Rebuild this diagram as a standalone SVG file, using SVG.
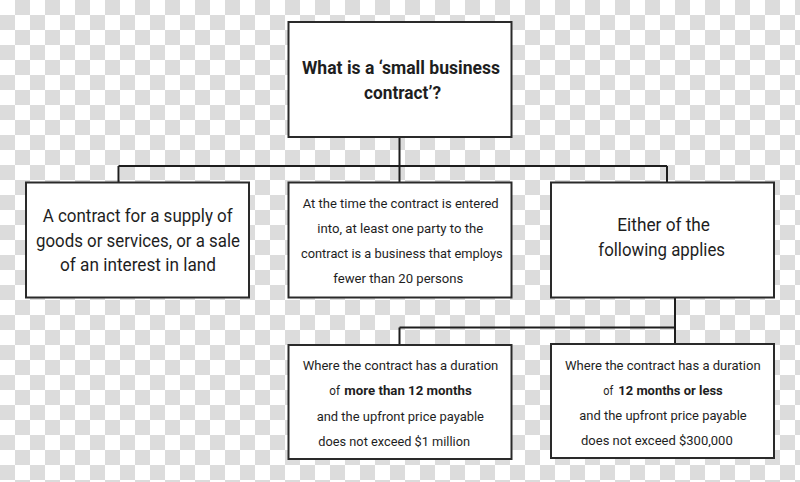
<svg xmlns="http://www.w3.org/2000/svg" width="800" height="482" viewBox="0 0 800 482">
<defs>
<pattern id="chk" x="0" y="0" width="30" height="30" patternUnits="userSpaceOnUse">
<rect x="0" y="0" width="30" height="30" fill="#ffffff"/>
<rect x="15" y="0" width="15" height="15" fill="#dcdcdc"/>
<rect x="0" y="15" width="15" height="15" fill="#dcdcdc"/>
</pattern>
</defs>
<style>
.box{fill:#ffffff;stroke:#2a2a2a;stroke-width:2}
.ln{fill:none;stroke:#1e1e1e;stroke-width:2}
text{font-family:"Liberation Sans Narrow","Roboto","Liberation Sans",sans-serif;fill:#1e1e1e}
.t{font-size:18px;font-weight:bold}
.m{font-size:17.5px}
.s{font-size:13.5px}
.b{font-weight:bold}
</style>
<rect x="0" y="0" width="800" height="482" fill="url(#chk)"/>
<g id="connectors">
<path class="ln" d="M399.5,137 V166 M118.5,166 H667 M118.5,166 V182 M399.5,166 V182 M667,166 V182"/>
<path class="ln" d="M675,297 V344 M399.5,327.5 H675 M399.5,327.5 V345"/>
</g>
<g id="n-title">
<rect class="box" x="288.5" y="22" width="223" height="115"/>
<text class="t" x="302" y="74" textLength="198" lengthAdjust="spacingAndGlyphs">What is a ‘small business</text>
<text class="t" x="364" y="99" textLength="77" lengthAdjust="spacingAndGlyphs">contract’?</text>
</g>
<g id="n-supply">
<rect class="box" x="26" y="182.5" width="223" height="115"/>
<text class="m" x="42.7" y="222" textLength="190" lengthAdjust="spacingAndGlyphs">A contract for a supply of</text>
<text class="m" x="36" y="246.5" textLength="204" lengthAdjust="spacingAndGlyphs">goods or services, or a sale</text>
<text class="m" x="60" y="271" textLength="156" lengthAdjust="spacingAndGlyphs">of an interest in land</text>
</g>
<g id="n-party">
<rect class="box" x="288.5" y="182.5" width="223" height="115"/>
<text class="s" x="302.7" y="208" textLength="196" lengthAdjust="spacingAndGlyphs">At the time the contract is entered</text>
<text class="s" x="317.3" y="233" textLength="166" lengthAdjust="spacingAndGlyphs">into, at least one party to the</text>
<text class="s" x="301" y="258" textLength="201.7" lengthAdjust="spacingAndGlyphs">contract is a business that employs</text>
<text class="s" x="333.3" y="283" textLength="130" lengthAdjust="spacingAndGlyphs">fewer than 20 persons</text>
</g>
<g id="n-either">
<rect class="box" x="551" y="182.5" width="223" height="115"/>
<text class="m" x="617.3" y="231" textLength="92.7" lengthAdjust="spacingAndGlyphs">Either of the</text>
<text class="m" x="598.3" y="256" textLength="126.7" lengthAdjust="spacingAndGlyphs">following applies</text>
</g>
<g id="n-more">
<rect class="box" x="288.5" y="345" width="223" height="114"/>
<text class="s" x="302.7" y="370" textLength="195.6" lengthAdjust="spacingAndGlyphs">Where the contract has a duration</text>
<text class="s" x="329.3" y="395" textLength="10.7" lengthAdjust="spacingAndGlyphs">of</text>
<text class="s b" x="344.3" y="395" textLength="127.4" lengthAdjust="spacingAndGlyphs">more than 12 months</text>
<text class="s" x="316.7" y="420.5" textLength="167.3" lengthAdjust="spacingAndGlyphs">and the upfront price payable</text>
<text class="s" x="318.3" y="445.5" textLength="151.7" lengthAdjust="spacingAndGlyphs">does not exceed $1 million</text>
</g>
<g id="n-less">
<rect class="box" x="551" y="344" width="223" height="114"/>
<text class="s" x="565" y="369.5" textLength="195.7" lengthAdjust="spacingAndGlyphs">Where the contract has a duration</text>
<text class="s" x="603.3" y="394.5" textLength="10" lengthAdjust="spacingAndGlyphs">of</text>
<text class="s b" x="618.3" y="394.5" textLength="104.4" lengthAdjust="spacingAndGlyphs">12 months or less</text>
<text class="s" x="579.3" y="420" textLength="167.4" lengthAdjust="spacingAndGlyphs">and the upfront price payable</text>
<text class="s" x="581" y="445" textLength="151.7" lengthAdjust="spacingAndGlyphs">does not exceed $300,000</text>
</g>
</svg>
